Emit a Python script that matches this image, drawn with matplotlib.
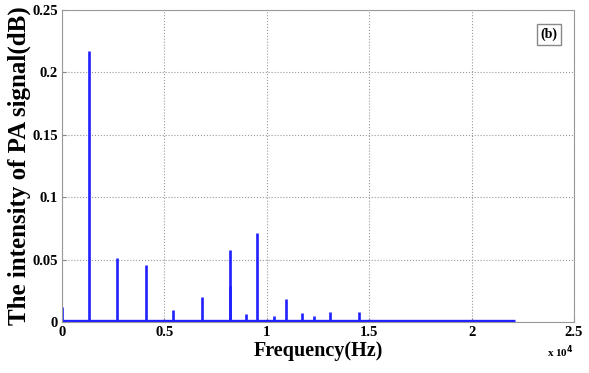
import matplotlib
matplotlib.use('Agg')
import matplotlib.pyplot as plt

# ===== ДАНІ СПЕКТРУ =====
peak_freq = [20, 400, 1330, 2700, 4080, 5430, 6830, 8190, 8200, 8980, 9540,
             10360, 10930, 11740, 12310, 13110, 13700, 14490, 15840]
peak_amp = [0.012, 0.002, 0.217, 0.051, 0.046, 0.010, 0.020, 0.058, 0.029,
            0.0065, 0.0717, 0.0048, 0.0185, 0.007, 0.0048, 0.0083, 0.0012,
            0.0083, 0.001]
base_freq = [0, 22100]
base_amp = [0.0005, 0.0005]

plt.rcParams['font.family'] = ['Liberation Serif', 'DejaVu Serif']
plt.rcParams['font.weight'] = 'bold'

fig = plt.figure(figsize=(5.89, 3.73), dpi=100)
ax = fig.add_axes([0.1053, 0.1367, 0.8692, 0.8365])

blue = '#1f1fff'
ax.plot(base_freq, base_amp, color=blue, lw=2.4, solid_capstyle='butt')
ax.vlines(peak_freq, 0, peak_amp, color=blue, lw=1.9)

ax.set_xlim(0, 25000)
ax.set_ylim(0, 0.25)
ax.set_xticks([0, 5000, 10000, 15000, 20000, 25000])
ax.set_xticklabels(['0', '0.5', '1', '1.5', '2', '2.5'])
ax.set_yticks([0, 0.05, 0.1, 0.15, 0.2, 0.25])
ax.set_yticklabels(['0', '0.05', '0.1', '0.15', '0.2', '0.25'])
ax.tick_params(labelsize=10.5, direction='in', length=3, color='#888888', pad=3)
for lab in ax.get_xticklabels() + ax.get_yticklabels():
    lab.set_fontweight('bold')

ax.grid(True, linestyle=':', color='#999999', lw=0.8)
for s in ax.spines.values():
    s.set_color('#999999')

ax.set_xlabel('Frequency(Hz)', fontsize=14.5, fontweight='bold', labelpad=1)
ax.set_ylabel('The intensity of PA signal(dB)', fontsize=18, fontweight='bold', labelpad=1)

fig.text(0.928, 0.045, r'x 10$^4$', fontsize=8, fontweight='bold')
ax.text(0.935, 0.91, '(b)', transform=ax.transAxes, fontsize=10, fontweight='bold',
        bbox=dict(facecolor='white', edgecolor='#888888', pad=2.5, lw=1))

fig.savefig('out.png', dpi=100)
